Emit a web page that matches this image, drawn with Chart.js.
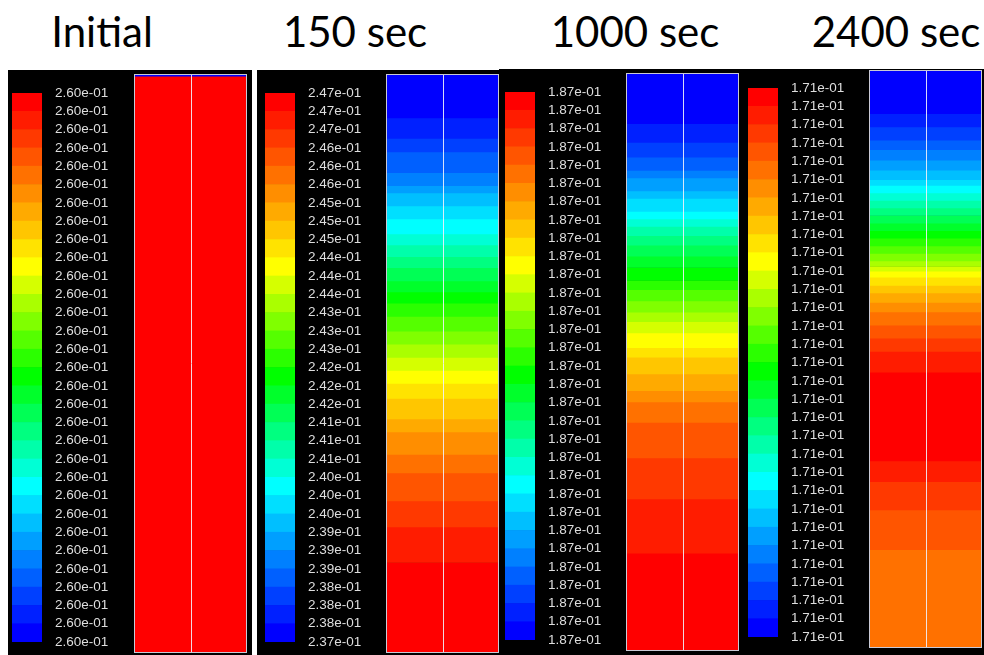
<!DOCTYPE html>
<html>
<head>
<meta charset="utf-8">
<script src="https://cdn.jsdelivr.net/npm/chart.js@4.4.1/dist/chart.umd.min.js"></script>
<style>
  html, body { margin: 0; padding: 0; background: #fff; width: 984px; height: 655px; overflow: hidden; }
  #page { position: relative; width: 984px; height: 655px; }
  .title { position: absolute; top: 9px; font-family: Lato, "Open Sans", sans-serif; font-size: 42px;
           line-height: 44px; color: #000; white-space: nowrap; transform: translateX(-50%); }
  .panel { position: absolute; background: #000; }
  canvas { position: absolute; display: block; }
</style>
</head>
<body>
<div id="page"></div>
<script>
// Snapshot titles
const snapshotTitles = ['Initial', '150 sec', '1000 sec', '2400 sec'];

// Colour-bar tick values, from the top of each bar (maximum) down to the bottom (minimum)
const ticksInitial = [0.260, 0.260, 0.260, 0.260, 0.260, 0.260, 0.260, 0.260, 0.260, 0.260, 0.260,
                      0.260, 0.260, 0.260, 0.260, 0.260, 0.260, 0.260, 0.260, 0.260, 0.260,
                      0.260, 0.260, 0.260, 0.260, 0.260, 0.260, 0.260, 0.260, 0.260, 0.260];
const ticks150 = [0.247, 0.247, 0.247, 0.246, 0.246, 0.246, 0.245, 0.245, 0.245, 0.244, 0.244,
                  0.244, 0.243, 0.243, 0.243, 0.242, 0.242, 0.242, 0.241, 0.241, 0.241,
                  0.240, 0.240, 0.240, 0.239, 0.239, 0.239, 0.238, 0.238, 0.238, 0.237];
const ticks1000 = [0.187, 0.187, 0.187, 0.187, 0.187, 0.187, 0.187, 0.187, 0.187, 0.187, 0.187,
                   0.187, 0.187, 0.187, 0.187, 0.187, 0.187, 0.187, 0.187, 0.187, 0.187,
                   0.187, 0.187, 0.187, 0.187, 0.187, 0.187, 0.187, 0.187, 0.187, 0.187];
const ticks2400 = [0.171, 0.171, 0.171, 0.171, 0.171, 0.171, 0.171, 0.171, 0.171, 0.171, 0.171,
                   0.171, 0.171, 0.171, 0.171, 0.171, 0.171, 0.171, 0.171, 0.171, 0.171,
                   0.171, 0.171, 0.171, 0.171, 0.171, 0.171, 0.171, 0.171, 0.171, 0.171];

// Contour bands down each column: colour level (0 = lowest, 29 = highest) and
// the band edges as a fraction of the column depth (0 = top, 1 = bottom)
const levelsInitial = [0, 29];
const depthInitial  = [0, 0.002, 1];

const levels150 = [0, 1, 2, 3, 4, 5, 6, 7, 8, 9, 10, 11, 12, 13, 14, 15, 16, 17, 18, 19,
                   20, 21, 22, 23, 24, 25, 26, 27, 28, 29];
const depth150  = [0, 0.0742, 0.1097, 0.1334, 0.1692, 0.1919, 0.2045, 0.2270, 0.2496, 0.2756,
                   0.2946, 0.3147, 0.3341, 0.3567, 0.3761, 0.3955, 0.4182, 0.4440, 0.4667, 0.4893,
                   0.5120, 0.5345, 0.5605, 0.5960, 0.6187, 0.6574, 0.6898, 0.7383, 0.7834, 0.8449, 1];

const levels1000 = [0, 1, 2, 3, 4, 5, 6, 7, 8, 9, 10, 11, 12, 13, 14, 15, 16, 17, 18, 19,
                    20, 21, 22, 23, 24, 25, 26, 27, 28, 29];
const depth1000  = [0, 0.0862, 0.1187, 0.1446, 0.1672, 0.1802, 0.2030, 0.2158, 0.2386, 0.2516,
                    0.2645, 0.2806, 0.2970, 0.3164, 0.3359, 0.3585, 0.3746, 0.3941, 0.4136, 0.4299,
                    0.4494, 0.4752, 0.4914, 0.5206, 0.5498, 0.5692, 0.6049, 0.6665, 0.7378, 0.8318, 1];

const levels2400 = [0, 1, 2, 3, 4, 5, 6, 7, 8, 9, 10, 11, 12, 13, 14, 15, 16, 17, 18, 19,
                    20, 21, 22, 23, 24, 25, 26, 27, 28, 29, 28, 27, 26, 25];
const depth2400  = [0, 0.0741, 0.0970, 0.1199, 0.1364, 0.1546, 0.1723, 0.1888, 0.1985, 0.2117,
                    0.2247, 0.2379, 0.2509, 0.2641, 0.2773, 0.2903, 0.3035, 0.3165, 0.3297, 0.3394,
                    0.3474, 0.3578, 0.3722, 0.3854, 0.4017, 0.4182, 0.4411, 0.4640, 0.4869, 0.5230,
                    0.6769, 0.7130, 0.7621, 0.8310, 1];

// ---- colour map: 30 bands, blue -> cyan -> green -> yellow -> red ----
const BANDS = 30;
const anchors = [[0, [0, 0, 255]], [8, [0, 255, 255]], [14, [0, 255, 0]], [20, [255, 255, 0]], [29, [255, 0, 0]]];
function levelColour(i) {
  for (let k = 0; k < anchors.length - 1; k++) {
    const [i0, c0] = anchors[k], [i1, c1] = anchors[k + 1];
    if (i >= i0 && i <= i1) {
      const t = (i - i0) / (i1 - i0);
      const c = c0.map((v, j) => Math.round(v + (c1[j] - v) * t));
      return `rgb(${c[0]},${c[1]},${c[2]})`;
    }
  }
  return 'rgb(255,0,0)';
}
function fmt(v) {
  const e = Math.floor(Math.log10(v));
  const m = v / Math.pow(10, e);
  const sign = e < 0 ? '-' : '+';
  return m.toFixed(2) + 'e' + sign + String(Math.abs(e)).padStart(2, '0');
}

// ---- page layout ----
const panels = [
  { title: 102, bg: [8, 70, 244, 585],   bar: [12, 93, 30, 549],  col: [135, 75, 111, 577],
    ticks: ticksInitial, levels: levelsInitial, depth: depthInitial },
  { title: 355, bg: [257, 70, 243, 585], bar: [265, 93, 30, 549], col: [387, 75, 111, 577],
    ticks: ticks150, levels: levels150, depth: depth150 },
  { title: 635, bg: [499, 69, 246, 586], bar: [505, 92, 30, 548], col: [627, 74, 111, 576],
    ticks: ticks1000, levels: levels1000, depth: depth1000 },
  { title: 896, bg: [743, 69, 241, 586], bar: [748, 88, 30, 549], col: [870, 71, 111, 576],
    ticks: ticks2400, levels: levels2400, depth: depth2400 }
];

const page = document.getElementById('page');
const LABEL_W = 80, PAD = 12;

// outline and centre line of each column
const columnFrame = {
  id: 'columnFrame',
  afterDatasetsDraw(chart) {
    const { ctx, chartArea: a } = chart;
    ctx.save();
    ctx.strokeStyle = 'rgba(236,236,250,0.85)';
    ctx.lineWidth = 1;
    ctx.strokeRect(Math.round(a.left) - 0.5, Math.round(a.top) - 0.5,
                   Math.round(a.right - a.left) + 1, Math.round(a.bottom - a.top) + 1);
    const cx = Math.round((a.left + a.right) / 2) + 0.5;
    ctx.strokeStyle = 'rgba(240,240,250,0.9)';
    ctx.beginPath(); ctx.moveTo(cx, a.top); ctx.lineTo(cx, a.bottom); ctx.stroke();
    ctx.restore();
  }
};

panels.forEach((p, idx) => {
  const t = document.createElement('div');
  t.className = 'title'; t.style.left = p.title + 'px'; t.textContent = snapshotTitles[idx];
  page.appendChild(t);

  const bg = document.createElement('div');
  bg.className = 'panel';
  [bg.style.left, bg.style.top, bg.style.width, bg.style.height] = p.bg.map(v => v + 'px');
  page.appendChild(bg);

  // colour bar with its tick labels
  const cb = document.createElement('canvas');
  cb.width = p.bar[2] + LABEL_W; cb.height = p.bar[3] + 2 * PAD;
  cb.style.left = p.bar[0] + 'px'; cb.style.top = (p.bar[1] - PAD) + 'px';
  page.appendChild(cb);
  const nT = p.ticks.length;
  const barChart = new Chart(cb, {
    type: 'bar',
    data: {
      labels: [''],
      datasets: Array.from({ length: BANDS }, (_, i) => ({
        data: [1], backgroundColor: levelColour(i), borderWidth: 0,
        barPercentage: 1, categoryPercentage: 1
      }))
    },
    options: {
      responsive: false, animation: false, events: [],
      layout: { padding: { top: PAD, bottom: PAD, left: 0, right: 0 } },
      plugins: { legend: { display: false }, tooltip: { enabled: false } },
      scales: {
        x: { stacked: true, display: false },
        y: {
          stacked: true, position: 'right', min: 0, max: BANDS,
          grid: { display: false, drawTicks: false }, border: { display: false },
          afterBuildTicks: s => { s.ticks = Array.from({ length: nT }, (_, i) => ({ value: i })); },
          afterFit: s => { s.width = LABEL_W; s.paddingTop = 0; s.paddingBottom = 0; },
          ticks: {
            autoSkip: false, padding: 13, color: '#dedede',
            font: { family: '"Liberation Sans", Arial, sans-serif', size: 13.5 },
            callback: v => fmt(p.ticks[nT - 1 - v])
          }
        }
      }
    }
  });
  // keep the bar exactly inside its frame: trim any extra inset the layout added
  const a = barChart.chartArea;
  const dTop = a.top - PAD, dBot = (cb.height - PAD) - a.bottom;
  if (Math.abs(dTop) > 0.5 || Math.abs(dBot) > 0.5) {
    barChart.options.layout.padding = { top: PAD - dTop, bottom: PAD - dBot, left: 0, right: 0 };
    barChart.update();
  }

  // contour column
  const cc = document.createElement('canvas');
  cc.width = p.col[2] + 2; cc.height = p.col[3] + 2;
  cc.style.left = (p.col[0] - 1) + 'px'; cc.style.top = (p.col[1] - 1) + 'px';
  page.appendChild(cc);
  new Chart(cc, {
    type: 'bar',
    data: {
      labels: [''],
      datasets: p.levels.map((lv, i) => ({
        data: [p.depth[i + 1] - p.depth[i]], backgroundColor: levelColour(lv), borderWidth: 0,
        barPercentage: 1, categoryPercentage: 1
      }))
    },
    options: {
      responsive: false, animation: false, events: [],
      layout: { padding: 1 },
      plugins: { legend: { display: false }, tooltip: { enabled: false } },
      scales: {
        x: { stacked: true, display: false },
        y: { stacked: true, display: false, min: 0, max: 1, reverse: true }
      }
    },
    plugins: [columnFrame]
  });
});
</script>
</body>
</html>
